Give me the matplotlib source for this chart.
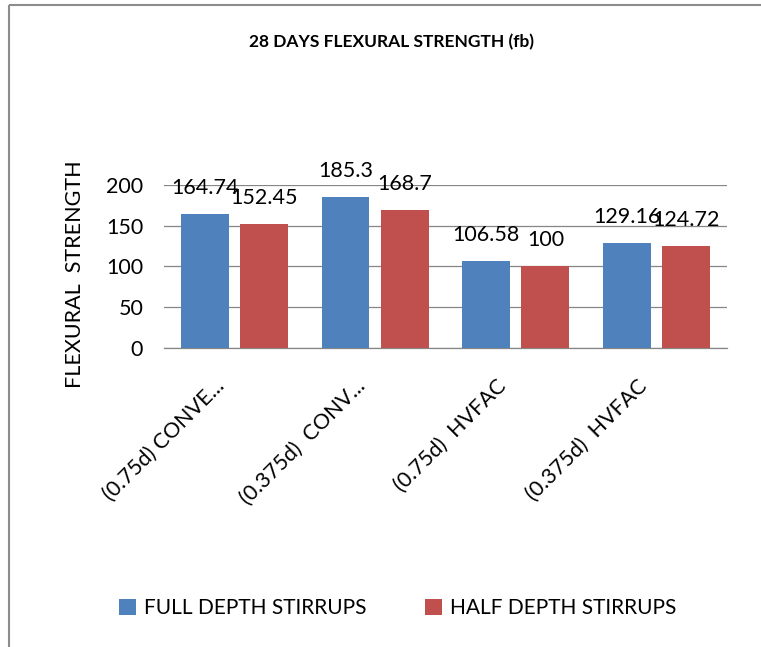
import numpy as np
import matplotlib
matplotlib.use('Agg')
import matplotlib.pyplot as plt
from matplotlib.lines import Line2D
from matplotlib.transforms import ScaledTranslation

plt.rcParams['font.family'] = ['Lato', 'DejaVu Sans']

# data
categories = ['(0.75d) CONVE...', '(0.375d)  CONV...', '(0.75d)  HVFAC', '(0.375d)  HVFAC']
full_depth = [164.74, 185.3, 106.58, 129.16]
half_depth = [152.45, 168.7, 100, 124.72]
full_labels = ['164.74', '185.3', '106.58', '129.16']
half_labels = ['152.45', '168.7', '100', '124.72']
series_names = ['FULL DEPTH STIRRUPS', 'HALF DEPTH STIRRUPS']

blue = '#4F81BD'
red = '#C0504D'
grid_col = '#868686'

fig = plt.figure(figsize=(7.61, 6.47), dpi=100)
ax = fig.add_axes([0.2155, 0.4621, 0.7398, 0.2521])

x = np.arange(len(categories))
w = 0.34
off = 0.21
b1 = ax.bar(x - off, full_depth, w, color=blue, label=series_names[0], zorder=3)
b2 = ax.bar(x + off, half_depth, w, color=red, label=series_names[1], zorder=3)

# value labels above the bars
for bars, labs in [(b1, full_labels), (b2, half_labels)]:
    for rect, lab in zip(bars, labs):
        ax.annotate(lab, (rect.get_x() + rect.get_width() / 2, rect.get_height()),
                    xytext=(0, 14.5), textcoords='offset points',
                    ha='center', va='baseline', fontsize=15.5, zorder=4)

ax.set_xlim(-0.5, len(categories) - 0.5)
ax.set_ylim(0, 200)
ax.set_yticks([0, 50, 100, 150, 200])
ax.yaxis.grid(True, color=grid_col, linewidth=0.9, zorder=0)
for s in ['top', 'right', 'left']:
    ax.spines[s].set_visible(False)
ax.spines['bottom'].set_color(grid_col)
ax.spines['bottom'].set_linewidth(0.9)
ax.tick_params(axis='y', length=0, pad=15, labelsize=15.5)
ax.tick_params(axis='x', length=0, pad=20, labelsize=15.5)

ax.set_xticks(x)
ax.set_xticklabels(categories, rotation=45, ha='right', rotation_mode='anchor')
shift = ScaledTranslation(-20 / 100, 0, fig.dpi_scale_trans)
for lab in ax.get_xticklabels():
    lab.set_transform(lab.get_transform() + shift)

ax.set_ylabel('FLEXURAL  STRENGTH', fontsize=15.5)
ax.yaxis.set_label_coords(-0.14, 0.45)

fig.text(0.515, 0.935, '28 DAYS FLEXURAL STRENGTH (fb)', ha='center', va='center',
         fontsize=12.5, fontweight='bold')

fig.legend(handles=[b1, b2], loc='center', bbox_to_anchor=(0.523, 0.06), ncol=2,
           frameon=False, fontsize=15, handlelength=0.8, handleheight=0.8,
           handletextpad=0.4, columnspacing=2.8)

# chart border (top and left edges only visible)
fig.add_artist(Line2D([9 / 761, 1], [1 - 4.5 / 647, 1 - 4.5 / 647], color='#8C8C8C',
                      linewidth=1.5, solid_capstyle='butt'))
fig.add_artist(Line2D([9 / 761, 9 / 761], [0, 1 - 4.5 / 647], color='#8C8C8C',
                      linewidth=1.5, solid_capstyle='butt'))

fig.savefig('out.png', dpi=100)
